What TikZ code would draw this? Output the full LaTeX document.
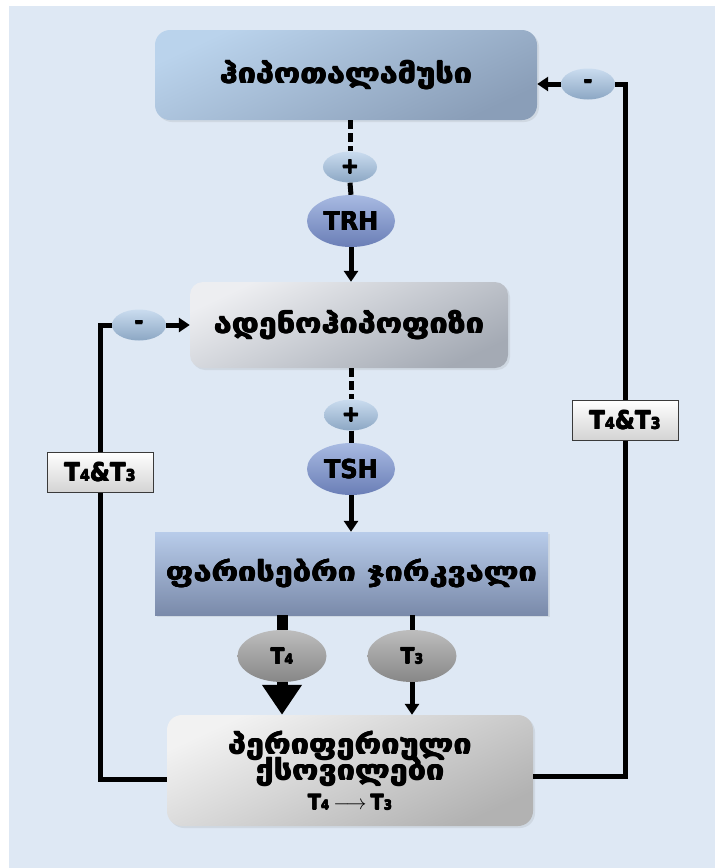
\documentclass[tikz,border=0pt]{standalone}
\usepackage{fontspec}
\setmainfont{DejaVu Sans}
\usetikzlibrary{arrows.meta,shapes.geometric,shadows}
\definecolor{bgblue}{HTML}{DEE8F4}
\definecolor{hypA}{HTML}{BAD3EC}
\definecolor{hypB}{HTML}{8A9EB8}
\definecolor{adeA}{HTML}{EDEEF1}
\definecolor{adeB}{HTML}{A4AAB4}
\definecolor{thyA}{HTML}{B8CCEA}
\definecolor{thyB}{HTML}{7A8AAA}
\definecolor{perA}{HTML}{F2F2F2}
\definecolor{perB}{HTML}{B2B2B2}
\definecolor{sgA}{HTML}{CADCEF}
\definecolor{sgB}{HTML}{8CA7C4}
\definecolor{hmA}{HTML}{A8BAE2}
\definecolor{hmB}{HTML}{6A7EB6}
\definecolor{tbA}{HTML}{BDBDBD}
\definecolor{tbB}{HTML}{878787}
\definecolor{labB}{HTML}{3A3A3A}
\newcommand\Tn[1]{T\scalebox{0.62}{#1}}
\newcommand\heavy[1]{\rlap{\kern0.8pt#1}\rlap{\kern0.4pt\raisebox{0.4pt}{#1}}\rlap{\kern0.4pt\raisebox{-0.4pt}{#1}}#1\kern0.8pt}
\newcommand\wide[1]{\scalebox{1.2}[1]{\heavy{#1}}}
\newcommand\narrow[1]{\scalebox{0.92}[1]{\heavy{#1}}}
\begin{document}
\begin{tikzpicture}[x=1pt,y=-1pt,
  geo/.style={font=\fontsize{27}{31}\selectfont\bfseries},
  organ/.style={geo, inner sep=0pt, drop shadow={opacity=0.15, shadow xshift=2pt, shadow yshift=-2pt}},
  wire/.style={line width=5pt, black},
  arr/.style={wire, -{Triangle[width=14pt,length=11pt]}},
  dashwire/.style={wire, dash pattern=on 9pt off 4pt},
  sign/.style={ellipse, inner sep=0pt, minimum width=54pt, minimum height=31pt, top color=sgA, bottom color=sgB, font=\fontsize{22}{22}\selectfont\bfseries},
  horm/.style={ellipse, inner sep=0pt, minimum width=88pt, minimum height=52pt, top color=hmA, bottom color=hmB, font=\fontsize{26}{26}\selectfont\bfseries},
  tball/.style={ellipse, inner sep=0pt, minimum width=89pt, minimum height=52pt, top color=tbA, bottom color=tbB, font=\fontsize{22}{22}\selectfont\bfseries},
  lab/.style={rectangle, inner sep=0pt, draw=labB, line width=1pt, top color=white, bottom color=black!17, minimum width=106pt, minimum height=40pt, font=\fontsize{25}{25}\selectfont\bfseries}
]
\useasboundingbox (0,0) rectangle (715,868);
\fill[white] (0,0) rectangle (715,868);
\fill[bgblue] (9,6) rectangle (715,868);

% organs
\node[organ, rounded corners=15pt, minimum width=382pt, minimum height=90pt,
      top color=hypA, bottom color=hypB, shading angle=25] (hyp) at (346,75) {\wide{ჰიპოთალამუსი}};
\node[organ, rounded corners=13pt, minimum width=318pt, minimum height=86pt,
      top color=adeA, bottom color=adeB, shading angle=25] (ade) at (349,325) {\wide{ადენოჰიპოფიზი}};
\node[organ, minimum width=393pt, minimum height=83pt,
      top color=thyA, bottom color=thyB] (thy) at (351.5,573.5) {\wide{ფარისებრი ჯირკვალი}};
\node[organ, rounded corners=15pt, minimum width=366pt, minimum height=111pt, align=center,
      top color=perA, bottom color=perB, shading angle=25] (per) at (350,770.5)
      {\wide{პერიფერიული}\\[-5pt]\wide{ქსოვილები}\\[-1pt]{\fontsize{21}{21}\selectfont\bfseries \narrow{\Tn{4}}\,$\longrightarrow$\,\narrow{\Tn{3}}}};

% signs and hormones
\node[sign] (p1) at (350,167) {\heavy{+}};
\node[horm] (trh) at (351,221) {\narrow{TRH}};
\node[sign] (p2) at (351,415) {\heavy{+}};
\node[horm] (tsh) at (351,469) {\narrow{TSH}};
\node[sign] (m1) at (139,325) {\heavy{-}};
\node[sign] (m2) at (588,84) {\heavy{-}};
\node[tball] (t4) at (282,656) {\narrow{\Tn{4}}};
\node[tball] (t3) at (412,656) {\narrow{\Tn{3}}};
\node[lab] (lab1) at (100,472) {\narrow{\Tn{4}\&\Tn{3}}};
\node[lab] (lab2) at (625,420) {\narrow{\Tn{4}\&\Tn{3}}};

% main axis
\draw[dashwire] (p1.north |- hyp.south) -- (p1.north);
\draw[wire] (p1.south) -- (trh.north);
\draw[arr] (trh.south) -- (trh.south |- ade.north);
\draw[dashwire] (p2.north |- ade.south) -- (p2.north);
\draw[wire] (p2.south) -- (tsh.north);
\draw[arr] (tsh.south) -- (tsh.south |- thy.north);

% thyroid outputs
\draw[line width=11pt] (t4.north |- thy.south) -- (t4.north);
\draw[line width=11pt, -{Triangle[width=38pt,length=30pt]}] (t4.south) -- (t4.south |- per.north);
\draw[wire] (t3.north |- thy.south) -- (t3.north);
\draw[arr] (t3.south) -- (t3.south |- per.north);

% feedback loops
\draw[wire] ([yshift=-9pt]per.west) -| (lab1.south);
\draw[wire] (lab1.north) |- (m1.west);
\draw[arr] (m1.east) -- (ade.west);
\draw[wire] ([yshift=-6pt]per.east) -| (lab2.south);
\draw[wire] (lab2.north) |- (m2.east);
\draw[arr] (m2.west) -- (m2.west -| hyp.east);
\end{tikzpicture}
\end{document}
